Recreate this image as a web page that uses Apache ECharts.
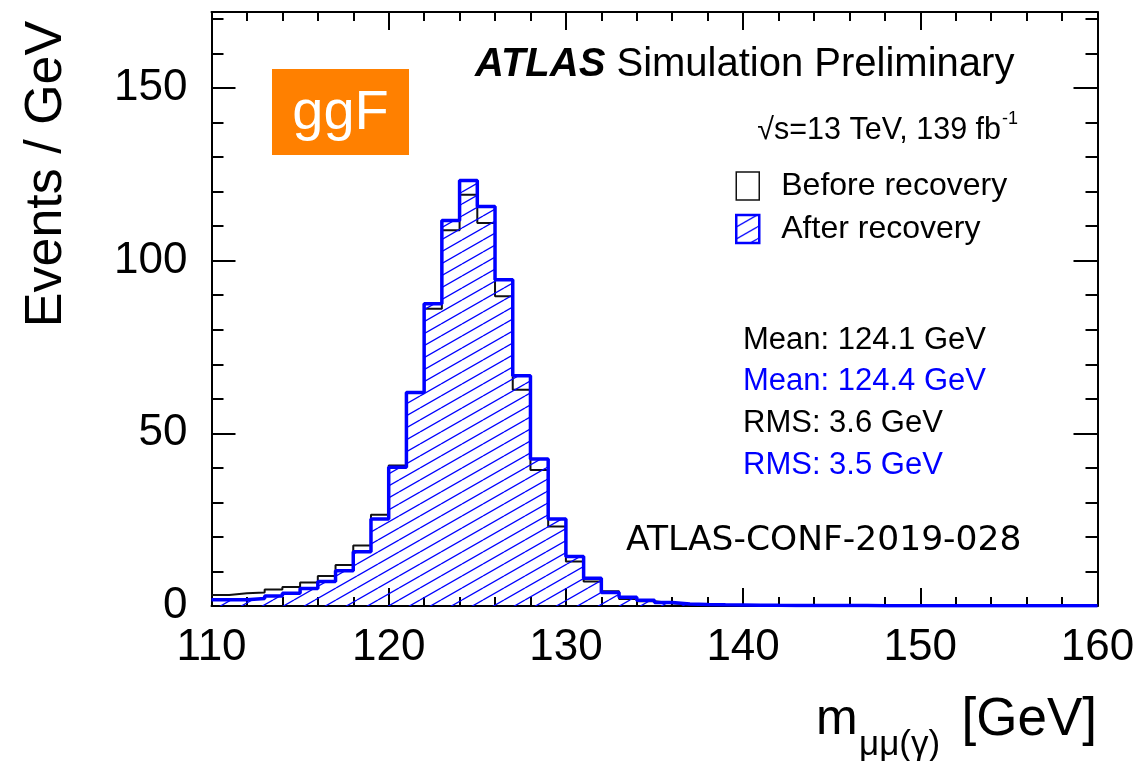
<!DOCTYPE html>
<html>
<head>
<meta charset="utf-8">
<script src="https://cdn.jsdelivr.net/npm/echarts@6/dist/echarts.min.js"></script>
<style>
html,body{margin:0;padding:0;background:#fff;}
#chart{width:1143px;height:761px;}
</style>
</head>
<body>
<div id="chart"></div>
<script>
// ---- data ----
const binLow = [110,111,112,113,114,115,116,117,118,119,
                120,121,122,123,124,125,126,127,128,129,
                130,131,132,133,134,135,136,137,138,139,
                140,141,142,143,144,145,146,147,148,149,
                150,151,152,153,154,155,156,157,158,159];
const binWidth = 1;
const beforeRecovery = [3.2,3.7,3.9,4.8,5.5,6.8,8.7,11.9,17.5,26.4,
                        40.7,62.0,86.1,108.8,119.1,110.9,89.7,62.6,39.4,23.0,
                        12.9,7.1,4.3,2.0,1.35,0.8,0.5,0.4,0.3,0.25,
                        0.2,0.18,0.15,0.13,0.12,0.1,0.1,0.09,0.08,0.08,
                        0.07,0.07,0.06,0.06,0.05,0.05,0.05,0.04,0.04,0.04];
const afterRecovery = [1.8,1.8,2.2,2.9,3.7,5.1,7.1,10.2,15.7,25.2,
                       40.2,61.8,87.5,111.6,123.2,115.7,94.5,66.7,42.6,25.2,
                       14.3,8.0,3.9,2.5,1.7,1.0,0.6,0.45,0.35,0.3,
                       0.25,0.2,0.18,0.15,0.13,0.12,0.11,0.1,0.09,0.09,
                       0.08,0.08,0.07,0.07,0.06,0.06,0.05,0.05,0.05,0.05];
const seriesNames = ['Before recovery','After recovery'];
const statLines = ['Mean: 124.1 GeV','Mean: 124.4 GeV','RMS: 3.6 GeV','RMS: 3.5 GeV'];
const xMin = 110, xMax = 160, yMin = 0, yMax = 172;

// ---- helpers ----
function toSteps(vals){
  const d = binLow.map((x,i)=>[x, vals[i]]);
  d.push([binLow[binLow.length-1] + binWidth, vals[vals.length-1]]);
  return d;
}
function makeHatch(){
  const W = 21, H = 12;
  const c = document.createElement('canvas');
  c.width = W; c.height = H;
  const g = c.getContext('2d');
  g.strokeStyle = '#0000ff';
  g.lineWidth = 1.3;
  for (let k = -1; k <= 1; k++){
    g.beginPath();
    g.moveTo(0, H + k*H);
    g.lineTo(W, k*H);
    g.stroke();
  }
  return c;
}
const hatch = {image: makeHatch(), repeat: 'repeat'};
const FONT = "'Liberation Sans', Arial, Helvetica, sans-serif";
const BLUE = '#0000ff';
const BLACK = '#111111';

const chart = echarts.init(document.getElementById('chart'), null, {renderer:'canvas'});

function txt(text, x, y, size, opts){
  opts = opts || {};
  return {
    type:'text', x:x, y:y, rotation: opts.rotation || 0, z: 100,
    style:{
      text:text, fill: opts.fill || '#000',
      font: (opts.style||'') + ' ' + (opts.weight||'normal') + ' ' + size + 'px ' + (opts.family || FONT),
      fontSize: size, fontFamily: opts.family || FONT,
      align: opts.align || 'left', verticalAlign: opts.valign || 'middle',
      textAlign: opts.align || 'left', textVerticalAlign: opts.valign || 'middle',
      rich: opts.rich
    }
  };
}

const axisLineStyle = {show:true, onZero:false, lineStyle:{color:'#000', width:2}};

const option = {
  animation:false,
  backgroundColor:'#fff',
  grid:{left:211.5, right:45.5, top:12, bottom:155, containLabel:false, outerBoundsMode:'none'},
  legend:{
    orient:'vertical', left:735, top:170, padding:0,
    itemWidth:23, itemHeight:28, itemGap:11,
    selectedMode:false,
    formatter: name => '{sp|}' + name,
    textStyle:{fontSize:32, fontFamily:FONT, color:'#000', rich:{sp:{width:17}}},
    data:[
      {name:seriesNames[0], icon:'rect', itemStyle:{color:'#fff', borderColor:BLACK, borderWidth:1.5}},
      {name:seriesNames[1], icon:'rect', itemStyle:{color:hatch, borderColor:BLUE, borderWidth:2.5}}
    ]
  },
  xAxis:[
    {type:'value', position:'bottom', min:xMin, max:xMax, interval:10,
     axisLine:axisLineStyle,
     axisTick:{show:true, inside:true, length:18, lineStyle:{color:'#000', width:2}},
     minorTick:{show:true, splitNumber:5, length:9, lineStyle:{color:'#000', width:2}},
     axisLabel:{show:true, margin:20, fontSize:44, fontFamily:FONT, color:'#000', hideOverlap:false},
     splitLine:{show:false}, minorSplitLine:{show:false}},
    {type:'value', position:'top', min:xMin, max:xMax, interval:10,
     axisLine:axisLineStyle,
     axisTick:{show:true, inside:true, length:18, lineStyle:{color:'#000', width:2}},
     minorTick:{show:true, splitNumber:5, length:9, lineStyle:{color:'#000', width:2}},
     axisLabel:{show:false}, splitLine:{show:false}}
  ],
  yAxis:[
    {type:'value', position:'left', min:yMin, max:yMax, interval:50,
     axisLine:axisLineStyle,
     axisTick:{show:true, inside:true, length:24, lineStyle:{color:'#000', width:2}},
     axisLabel:{show:true, margin:24, fontSize:44, fontFamily:FONT, color:'#000',
                formatter: v => (v % 50 === 0 ? String(v) : ''), hideOverlap:false},
     splitLine:{show:false}},
    {type:'value', position:'left', min:yMin, max:yMax, interval:10,
     axisLine:{show:false},
     axisTick:{show:true, inside:true, length:12, lineStyle:{color:'#000', width:2}},
     axisLabel:{show:false}, splitLine:{show:false}},
    {type:'value', position:'right', min:yMin, max:yMax, interval:50,
     axisLine:axisLineStyle,
     axisTick:{show:true, inside:true, length:24, lineStyle:{color:'#000', width:2}},
     axisLabel:{show:false}, splitLine:{show:false}},
    {type:'value', position:'right', min:yMin, max:yMax, interval:10,
     axisLine:{show:false},
     axisTick:{show:true, inside:true, length:12, lineStyle:{color:'#000', width:2}},
     axisLabel:{show:false}, splitLine:{show:false}}
  ],
  series:[
    {name:seriesNames[0], type:'line', step:'end', xAxisIndex:0, yAxisIndex:0,
     data:toSteps(beforeRecovery), symbol:'none', showSymbol:false, z:2,
     color:BLACK, lineStyle:{color:BLACK, width:2}, itemStyle:{color:BLACK}},
    {name:seriesNames[1], type:'line', step:'end', xAxisIndex:0, yAxisIndex:0,
     data:toSteps(afterRecovery), symbol:'none', showSymbol:false, z:3,
     color:BLUE, lineStyle:{color:BLUE, width:3.5}, itemStyle:{color:BLUE},
     areaStyle:{color:hatch, opacity:1}}
  ],
  graphic:[
    {type:'rect', shape:{x:272, y:69, width:137, height:86}, style:{fill:'#ff8000'}, z:90},
    txt('ggF', 340.5, 114, 56, {fill:'#fff', align:'center'}),
    txt('{b|ATLAS} {r|Simulation Preliminary}', 475, 65, 40, {rich:{
      b:{fontSize:40, fontFamily:FONT, fontWeight:'bold', fontStyle:'italic', fill:'#000'},
      r:{fontSize:40, fontFamily:FONT, fill:'#000'}}}),
    txt('√s=13 TeV, 139 fb', 1001, 131, 30.5, {align:'right'}),
    txt('-1', 1002, 119, 18),
    txt(statLines[0], 743, 340, 31, {fill:'#000'}),
    txt(statLines[1], 743, 381, 31, {fill:BLUE}),
    txt(statLines[2], 743, 423, 31, {fill:'#000'}),
    txt(statLines[3], 743, 465, 31, {fill:BLUE}),
    txt('ATLAS-CONF-2019-028', 626, 541, 34.5, {family:"'DejaVu Sans', sans-serif"}),
    txt('Events / GeV', 47, 174, 52, {align:'center', rotation:Math.PI/2}),
    txt('m', 816, 720, 50),
    txt('μμ(γ)', 859, 745, 35),
    txt('[GeV]', 1097, 720, 53, {align:'right'})
  ]
};
chart.setOption(option);
</script>
</body>
</html>
